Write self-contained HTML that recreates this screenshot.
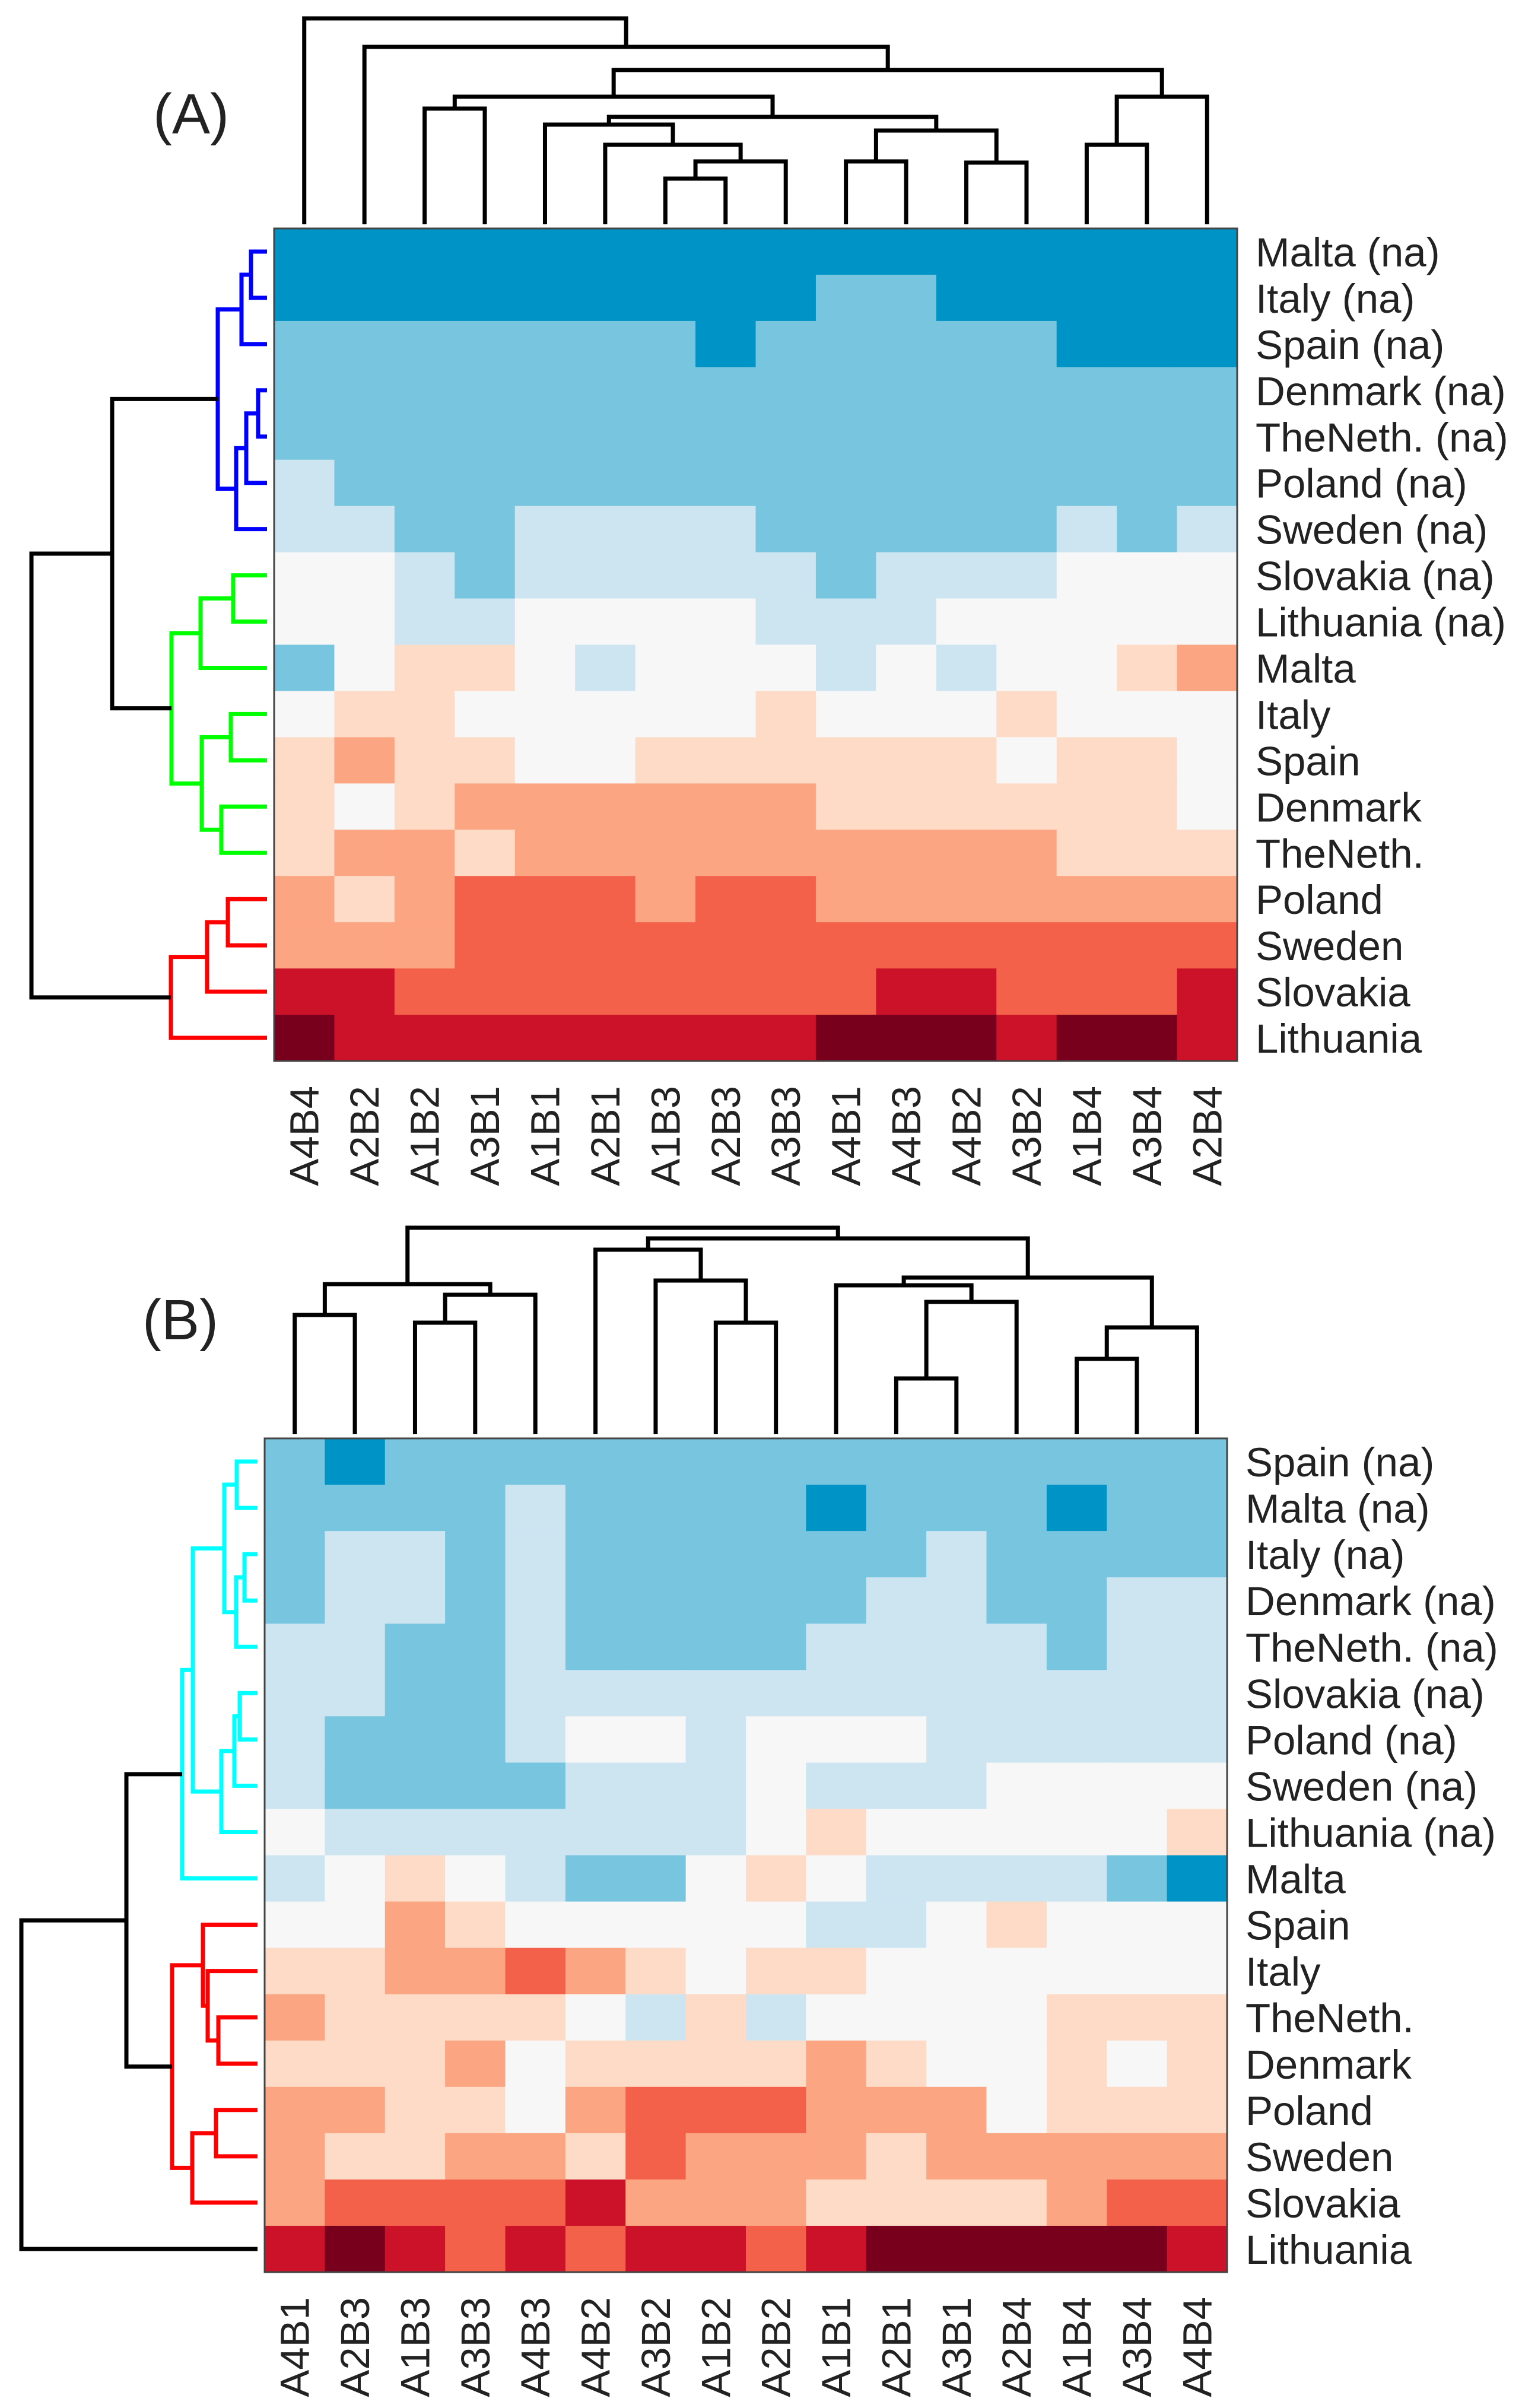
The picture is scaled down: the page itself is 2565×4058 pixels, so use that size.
<!DOCTYPE html>
<html><head><meta charset="utf-8"><style>
html,body{margin:0;padding:0;background:#fff;}
svg{display:block;font-family:"Liberation Sans",Arial,sans-serif;}
</style></head><body>
<svg id="fig" width="2565" height="4058" viewBox="0 0 2565 4058" xmlns="http://www.w3.org/2000/svg">
<rect width="2565" height="4058" fill="#fff"/>
<text x="258" y="225" font-size="96" fill="#222">(A)</text>
<text x="240" y="2257" font-size="96" fill="#222">(B)</text>
</svg>
<script>
// ---- Panel A data ----
const colsA = ["A4B4","A2B2","A1B2","A3B1","A1B1","A2B1","A1B3","A2B3","A3B3","A4B1","A4B3","A4B2","A3B2","A1B4","A3B4","A2B4"];
const rowsA = ["Malta (na)","Italy (na)","Spain (na)","Denmark (na)","TheNeth. (na)","Poland (na)","Sweden (na)","Slovakia (na)","Lithuania (na)","Malta","Italy","Spain","Denmark","TheNeth.","Poland","Sweden","Slovakia","Lithuania"];
const valsA = [
"0000000000000000",
"0000000001100000",
"1111111011111000",
"1111111111111111",
"1111111111111111",
"2111111111111111",
"2211222211111212",
"3321222221222333",
"3322333322233333",
"1344323332323345",
"3443333343334333",
"4544334444443443",
"4345555554444443",
"4554555555555444",
"5456665665555555",
"5556666666666666",
"7766666666776667",
"8777777778887887"];
// ---- Panel B data ----
const colsB = ["A4B1","A2B3","A1B3","A3B3","A4B3","A4B2","A3B2","A1B2","A2B2","A1B1","A2B1","A3B1","A2B4","A1B4","A3B4","A4B4"];
const rowsB = ["Spain (na)","Malta (na)","Italy (na)","Denmark (na)","TheNeth. (na)","Slovakia (na)","Poland (na)","Sweden (na)","Lithuania (na)","Malta","Spain","Italy","TheNeth.","Denmark","Poland","Sweden","Slovakia","Lithuania"];
const valsB = [
"1011111111111111",
"1111211110111011",
"1221211111121111",
"1221211111221122",
"2211211112222122",
"2211222222222222",
"2111233233322222",
"2111122232223333",
"3222222234333334",
"2343211343222210",
"3354333332234333",
"4455654344333333",
"5444432423333444",
"4445344445433434",
"5544356665553444",
"5445546555455555",
"5666675554444566",
"7876767767888887"];
const palette = ["#0093c6","#78c5df","#cce5f1","#f7f7f7","#fddbc7","#fca582","#f4614b","#cb1228","#79001c"];
// Dendrograms: [left, right, height(px), color]
const topTreeA = [0,[1,[[[2,3,183],[[4,[5,[[6,7,301],8,272],244],210],[[9,10,272],[11,12,274],220],197],163],[[[13,14,244],15,163]][0],118],79],31];
const leftTreeA = [[[[[0,1,423,"#0000ff"],2,407,"#0000ff"],[[[3,4,435,"#0000ff"],5,415,"#0000ff"],6,398,"#0000ff"],367,"#0000ff"],[[[7,8,393,"#00ff00"],9,338,"#00ff00"],[[10,11,389,"#00ff00"],[12,13,373,"#00ff00"],340,"#00ff00"],289,"#00ff00"],189],[[[14,15,384,"#ff0000"],16,349,"#ff0000"],17,288,"#ff0000"],53];
const topTreeB = [[[0,1,2216],[[2,3,2229],4,2182],2164],[[5,[6,[7,8,2229],2158],2106],[[9,[[10,11,2323],12,2194],2166],[[13,14,2290],15,2237],2153],2087],2069];
const leftTreeB = [[[[[[0,1,399,"#00ffff"],[[2,3,412,"#00ffff"],4,398,"#00ffff"],378,"#00ffff"],[[[5,6,404,"#00ffff"],7,395,"#00ffff"],8,373,"#00ffff"],325,"#00ffff"],9,307,"#00ffff"],[[10,[11,[12,13,368,"#ff0000"],350,"#ff0000"],342,"#ff0000"],[[14,15,364,"#ff0000"],16,324,"#ff0000"],290,"#ff0000"],213],17,36];

const NS="http://www.w3.org/2000/svg";
const svg=document.getElementById('fig');
function mk(tag,attrs,parent){const e=document.createElementNS(NS,tag);for(const k in attrs)e.setAttribute(k,attrs[k]);(parent||svg).appendChild(e);return e;}

function panel(P){
  const g=mk('g',{});
  
  
  const cw=P.w/P.cols.length, rh=P.h/P.rows.length;
  const xc=i=>P.x+cw*(i+0.5), yc=j=>P.y+rh*(j+0.5);
  P.vals.forEach((row,j)=>{
    for(let i=0;i<row.length;i++){
      const r=mk('rect',{x:P.x+cw*i,y:P.y+rh*j,width:cw+0.6,height:rh+0.6,fill:palette[+row[i]]},g);
      
      
    }
  });
  const b=mk('rect',{x:P.x,y:P.y,width:P.w,height:P.h,fill:'none',stroke:'#444','stroke-width':3},g);
  
  
  P.rows.forEach((t,j)=>{
    const e=mk('text',{x:P.x+P.w+31,y:yc(j)+25,'font-size':69,fill:'#222'},g);
    e.textContent=t;
    
    
  });
  P.cols.forEach((t,i)=>{
    const ty=P.y+P.h+42, tx=xc(i)+24;
    const e=mk('text',{x:tx,y:ty,'font-size':69,fill:'#222','text-anchor':'end',transform:`rotate(-90 ${tx} ${ty})`},g);
    e.textContent=t;
    
    
  });
  // top dendrogram
  const dg=mk('g',{fill:'none','stroke-width':7,'stroke-linejoin':'miter'},g);
  
  
  const leafY=P.y-7;
  function top(n){
    if(typeof n==='number') return {x:xc(n),y:leafY};
    const a=top(n[0]), c=top(n[1]), h=n[2];
    const p=mk('path',{d:`M${a.x},${a.y}V${h}H${c.x}V${c.y}`,stroke:n[3]||'#000'},dg);
    
    
    return {x:(a.x+c.x)/2,y:h};
  }
  top(P.topTree);
  const lg=mk('g',{fill:'none','stroke-width':7},g);
  
  
  const leafX=P.x-12;
  function left(n){
    if(typeof n==='number') return {x:leafX,y:yc(n)};
    const a=left(n[0]), c=left(n[1]), h=n[2];
    const p=mk('path',{d:`M${a.x},${a.y}H${h}V${c.y}H${c.x}`,stroke:n[3]||'#000'},lg);
    
    
    return {x:h,y:(a.y+c.y)/2};
  }
  left(P.leftTree);
}
panel({name:'panel-a',x:462,y:385,w:1623,h:1403,cols:colsA,rows:rowsA,vals:valsA,topTree:topTreeA,leftTree:leftTreeA});
panel({name:'panel-b',x:446,y:2424,w:1622,h:1405,cols:colsB,rows:rowsB,vals:valsB,topTree:topTreeB,leftTree:leftTreeB});
</script>
</body></html>
